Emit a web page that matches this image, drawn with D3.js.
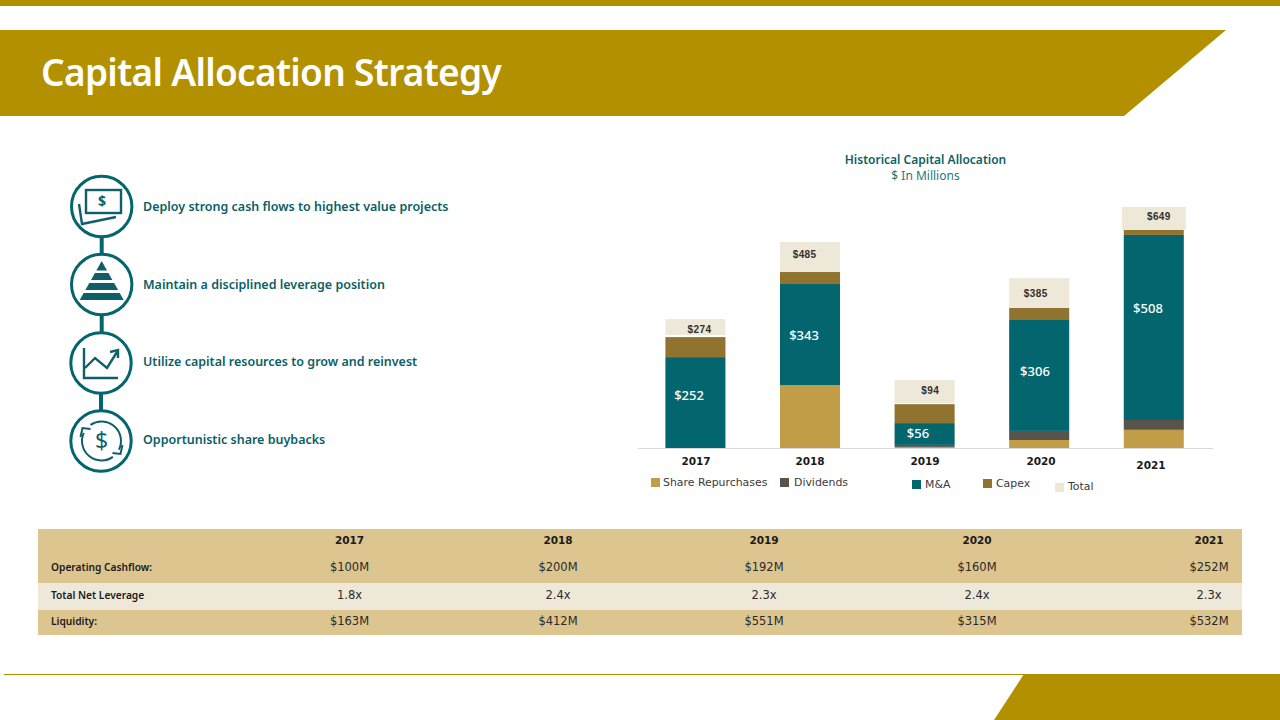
<!DOCTYPE html>
<html>
<head>
<meta charset="utf-8">
<title>Capital Allocation Strategy</title>
<script src="https://cdn.jsdelivr.net/npm/d3@7"></script>
<style>
  html, body { margin: 0; padding: 0; background: #fff; }
  svg { display: block; }
</style>
</head>
<body>
<script>
const years = ['2017', '2018', '2019', '2020', '2021']

// segment heights, $M (drawn heights, not always the printed label)
const shareRepurchases = [0, 173, 3, 22, 50]
const dividends = [0, 0, 5.5, 25, 27]
const mna = [250, 278, 60, 305, 509]
const capex = [55, 33, 52, 33, 14]
const spacer = [5.5, 0, 3, 0, 0]
const total = [44, 82.5, 63, 82, 63]

const mnaLabels = ['$252', '$343', '$56', '$306', '$508']
const totalLabels = ['$274', '$485', '$94', '$385', '$649']

const seriesNames = ['Share Repurchases', 'Dividends', 'M&A', 'Capex', 'Total']

const bullets = [
  'Deploy strong cash flows to highest value projects',
  'Maintain a disciplined leverage position',
  'Utilize capital resources to grow and reinvest',
  'Opportunistic share buybacks'
]

const tableYears = ['2017', '2018', '2019', '2020', '2021']
const rowNames = ['Operating Cashflow:', 'Total Net Leverage', 'Liquidity:']
const operatingCashflow = ['$100M', '$200M', '$192M', '$160M', '$252M']
const netLeverage = ['1.8x', '2.4x', '2.3x', '2.4x', '2.3x']
const liquidity = ['$163M', '$412M', '$551M', '$315M', '$532M']

const gold = '#b39000'
const teal = '#03666f'
const tealText = '#0b5f67'
const colors = {
  share: '#c29d48',
  dividends: '#58544c',
  mna: teal,
  capex: '#917330',
  total: '#eee8d9'
}
const tableTan = '#ddc590'
const bodyFont = '"Noto Sans", sans-serif'

const svg = d3.select('body').append('svg')
  .attr('width', 1280)
  .attr('height', 720)
  .attr('viewBox', '0 0 1280 720')

// slide furniture
svg.append('rect').attr('x', 0).attr('y', 0).attr('width', 1280).attr('height', 6).attr('fill', gold)
svg.append('path').attr('d', 'M0,30L1226,30L1124,116L0,116Z').attr('fill', gold)
svg.append('text')
  .text('Capital Allocation Strategy')
  .attr('x', 41)
  .attr('y', 86)
  .attr('font-family', bodyFont)
  .attr('font-weight', 600)
  .attr('font-size', 37)
  .attr('letter-spacing', -0.68)
  .attr('fill', '#fff')
svg.append('line').attr('x1', 4).attr('x2', 1280).attr('y1', 674.5).attr('y2', 674.5).attr('stroke', gold)
svg.append('path').attr('d', 'M1024,674L1280,674L1280,720L994,720Z').attr('fill', gold)

// left column
const iconX = [101.7, 101.7, 101, 101]
const iconY = [206.5, 284.5, 363, 441]

svg.selectAll('.connector')
  .data(d3.pairs(iconY))
  .enter()
  .append('line')
  .attr('class', 'connector')
  .attr('x1', (d, i) => iconX[i])
  .attr('x2', (d, i) => iconX[i])
  .attr('y1', d => d[0])
  .attr('y2', d => d[1])
  .attr('stroke', teal)
  .attr('stroke-width', 4)

svg.selectAll('.icon-ring')
  .data(iconY)
  .enter()
  .append('circle')
  .attr('class', 'icon-ring')
  .attr('cx', (d, i) => iconX[i])
  .attr('cy', d => d)
  .attr('r', 30.2)
  .attr('fill', '#fff')
  .attr('stroke', teal)
  .attr('stroke-width', 3)

svg.selectAll('.bullet')
  .data(bullets)
  .enter()
  .append('text')
  .attr('class', 'bullet')
  .text(d => d)
  .attr('x', 143)
  .attr('y', (d, i) => [206.6, 284.6, 361.6, 439.6][i])
  .attr('dy', '0.35em')
  .attr('font-family', bodyFont)
  .attr('font-weight', 600)
  .attr('font-size', 12.5)
  .attr('fill', tealText)

const icons = svg.append('g')
  .attr('fill', 'none')
  .attr('stroke', '#0f5f6a')
  .attr('stroke-width', 2.4)

// money
icons.append('rect').attr('x', 86).attr('y', 190).attr('width', 35).attr('height', 23)
icons.append('path').attr('d', 'M79,204L82,224L116,217')
icons.append('text').text('$')
  .attr('x', 102).attr('y', 206)
  .attr('text-anchor', 'middle')
  .attr('font-family', bodyFont).attr('font-weight', 700).attr('font-size', 14)
  .attr('fill', '#0f5f6a').attr('stroke', 'none')

// pyramid
const pyramidBands = [[261, 270.5], [273, 280], [283, 290], [293, 300]]
const halfWidth = d3.scaleLinear().domain([261, 300]).range([0, 22])
icons.selectAll('.band')
  .data(pyramidBands)
  .enter()
  .append('path')
  .attr('class', 'band')
  .attr('d', d => `M${101.7 - halfWidth(d[0])},${d[0]}L${101.7 + halfWidth(d[0])},${d[0]}L${101.7 + halfWidth(d[1])},${d[1]}L${101.7 - halfWidth(d[1])},${d[1]}Z`)
  .attr('fill', '#0f5f6a')
  .attr('stroke', 'none')

// growth chart
icons.append('path').attr('d', 'M84,348L84,378L118,378')
icons.append('path').attr('d', 'M85,368L95,358L107,368L117,352')
icons.append('path').attr('d', 'M110,352L118,350L118,358')

// buyback arrows
const arrowArc = d3.arc().innerRadius(19.5).outerRadius(19.5)
const buyback = icons.append('g')
  .attr('transform', 'translate(101.5,441)')
  .attr('stroke-width', 2)
buyback.append('path').attr('d', arrowArc({ startAngle: -0.6, endAngle: 2.03 }))
buyback.append('path').attr('d', arrowArc({ startAngle: 2.52, endAngle: 5.14 }))
buyback.append('path').attr('d', 'M11,12L19,13L21,4')
buyback.append('path').attr('d', 'M-11,-12L-19,-13L-21,-4')
buyback.append('text').text('$')
  .attr('y', 8)
  .attr('text-anchor', 'middle')
  .attr('font-family', bodyFont).attr('font-size', 23)
  .attr('fill', '#0f5f6a').attr('stroke', 'none')

// chart titles
svg.append('text')
  .text('Historical Capital Allocation')
  .attr('x', 925.5)
  .attr('y', 164)
  .attr('text-anchor', 'middle')
  .attr('font-family', bodyFont)
  .attr('font-weight', 600)
  .attr('font-size', 12)
  .attr('fill', tealText)
svg.append('text')
  .text('$ In Millions')
  .attr('x', 925.5)
  .attr('y', 180)
  .attr('text-anchor', 'middle')
  .attr('font-family', bodyFont)
  .attr('font-size', 12)
  .attr('fill', '#1c7880')

// stacked bars
const rows = years.map((year, i) => ({
  year,
  share: shareRepurchases[i],
  dividends: dividends[i],
  mna: mna[i],
  capex: capex[i],
  spacer: spacer[i],
  total: total[i]
}))

const stack = d3.stack().keys(['share', 'dividends', 'mna', 'capex', 'spacer', 'total'])
const layers = stack(rows)

const x = d3.scaleBand()
  .domain(years)
  .range([638.4, 1210.8])
  .paddingInner(0.476)
  .paddingOuter(0.2356)

const y = d3.scaleLinear()
  .domain([0, 700])
  .range([448, 448 - 700 * 0.3636])

svg.selectAll('.layer')
  .data(layers.filter(l => l.key !== 'spacer'))
  .enter()
  .append('g')
  .attr('class', 'layer')
  .attr('fill', d => colors[d.key])
  .selectAll('rect')
  .data(d => d.map(v => Object.assign({ key: d.key }, { v })))
  .enter()
  .append('rect')
  // last total cap sits a little wider than its bar
  .attr('x', d => x(d.v.data.year) - (d.key === 'total' && d.v.data.year === '2021' ? 2 : 0))
  .attr('width', d => x.bandwidth() + (d.key === 'total' && d.v.data.year === '2021' ? 4 : 0))
  .attr('y', d => y(d.v[1]))
  .attr('height', d => y(d.v[0]) - y(d.v[1]))

const axis = svg.append('g')
  .attr('transform', 'translate(0,448)')
  .call(d3.axisBottom(x).tickSize(0).tickPadding(10))
// baseline runs on past the last bar
axis.select('.domain')
  .attr('d', 'M638,0.5H1213')
  .attr('stroke', '#d9d9d9')
  .attr('stroke-width', 1.2)
axis.selectAll('text')
  .attr('font-family', '"DejaVu Sans", sans-serif')
  .attr('font-weight', 700)
  .attr('font-size', 10.5)
  .attr('fill', '#1a1a1a')
  .attr('dx', (d, i) => [0.6, 0, 0.4, 1.8, -2.8][i])
  .attr('dy', (d, i) => (i === 4 ? '1.0em' : '0.71em'))

// hand placed in the source slide, so nudged off the segment centres
const mnaLabelDx = [-6.4, -6, -6.6, -4.2, -5.8]
const mnaLabelDy = [-7.5, 0.5, -1, -4.5, -19]
const totalLabelDx = [4.1, -5.4, 5.6, -3.4, 5.1]
const totalLabelDy = [2, -3, -1.5, 0.5, -1.5]

const mnaLayer = layers.find(l => l.key === 'mna')
const totalLayer = layers.find(l => l.key === 'total')

svg.selectAll('.mna-label')
  .data(mnaLabels)
  .enter()
  .append('text')
  .attr('class', 'mna-label')
  .text(d => d)
  .attr('x', (d, i) => x(years[i]) + x.bandwidth() / 2 + mnaLabelDx[i])
  .attr('y', (d, i) => (y(mnaLayer[i][0]) + y(mnaLayer[i][1])) / 2 + mnaLabelDy[i])
  .attr('dy', '0.35em')
  .attr('text-anchor', 'middle')
  .attr('font-family', bodyFont)
  .attr('font-weight', 500)
  .attr('font-size', 13)
  .attr('fill', '#fff')

svg.selectAll('.total-label')
  .data(totalLabels)
  .enter()
  .append('text')
  .attr('class', 'total-label')
  .text(d => d)
  .attr('x', (d, i) => x(years[i]) + x.bandwidth() / 2 + totalLabelDx[i])
  .attr('y', (d, i) => (y(totalLayer[i][0]) + y(totalLayer[i][1])) / 2 + totalLabelDy[i])
  .attr('dy', '0.35em')
  .attr('text-anchor', 'middle')
  .attr('font-family', '"Liberation Sans", sans-serif')
  .attr('font-weight', 700)
  .attr('font-size', 10)
  .attr('letter-spacing', 0.4)
  .attr('fill', '#33302a')

// legend, items are not on a common line in the source
const legendX = [651, 780, 912, 983, 1055]
const legendY = [478, 478, 480, 479, 483]
const legendKeys = ['share', 'dividends', 'mna', 'capex', 'total']

const legend = svg.selectAll('.legend')
  .data(seriesNames)
  .enter()
  .append('g')
  .attr('class', 'legend')
  .attr('transform', (d, i) => `translate(${legendX[i]},${legendY[i]})`)
legend.append('rect')
  .attr('width', 9)
  .attr('height', 9)
  .attr('fill', (d, i) => colors[legendKeys[i]])
legend.append('text')
  .text(d => d)
  .attr('x', (d, i) => [12, 14, 13, 13, 13][i])
  .attr('y', (d, i) => (i === 4 ? 3 : 4))
  .attr('dy', '0.35em')
  .attr('font-family', '"DejaVu Sans", sans-serif')
  .attr('font-size', 10.9)
  .attr('fill', '#3a3a3a')

// table
const rowBands = [[529, 583, tableTan], [583, 610, colors.total], [610, 635, tableTan]]
svg.selectAll('.table-row')
  .data(rowBands)
  .enter()
  .append('rect')
  .attr('class', 'table-row')
  .attr('x', 38)
  .attr('width', 1204)
  .attr('y', d => d[0])
  .attr('height', d => d[1] - d[0])
  .attr('fill', d => d[2])

const colX = [349.5, 558, 764, 977, 1209]
const rowY = [567, 594.5, 621]
const tableValues = [operatingCashflow, netLeverage, liquidity]

svg.selectAll('.table-year')
  .data(tableYears)
  .enter()
  .append('text')
  .attr('class', 'table-year')
  .text(d => d)
  .attr('x', (d, i) => colX[i])
  .attr('y', 540.5)
  .attr('dy', '0.35em')
  .attr('text-anchor', 'middle')
  .attr('font-family', '"DejaVu Sans", sans-serif')
  .attr('font-weight', 700)
  .attr('font-size', 10.5)
  .attr('fill', '#1a1a1a')

svg.selectAll('.row-name')
  .data(rowNames)
  .enter()
  .append('text')
  .attr('class', 'row-name')
  .text(d => d)
  .attr('x', 51)
  .attr('y', (d, i) => rowY[i] + 0.5)
  .attr('dy', '0.35em')
  .attr('font-family', bodyFont)
  .attr('font-weight', 600)
  .attr('font-size', 10.2)
  .attr('fill', '#1a1a1a')

tableValues.forEach((values, r) => {
  svg.selectAll('.cell-' + r)
    .data(values)
    .enter()
    .append('text')
    .attr('class', 'cell-' + r)
    .text(d => d)
    .attr('x', (d, i) => colX[i])
    .attr('y', rowY[r])
    .attr('dy', '0.35em')
    .attr('text-anchor', 'middle')
    .attr('font-family', '"DejaVu Sans", sans-serif')
    .attr('font-size', 11.5)
    .attr('fill', '#2a2a2a')
})
</script>
</body>
</html>
